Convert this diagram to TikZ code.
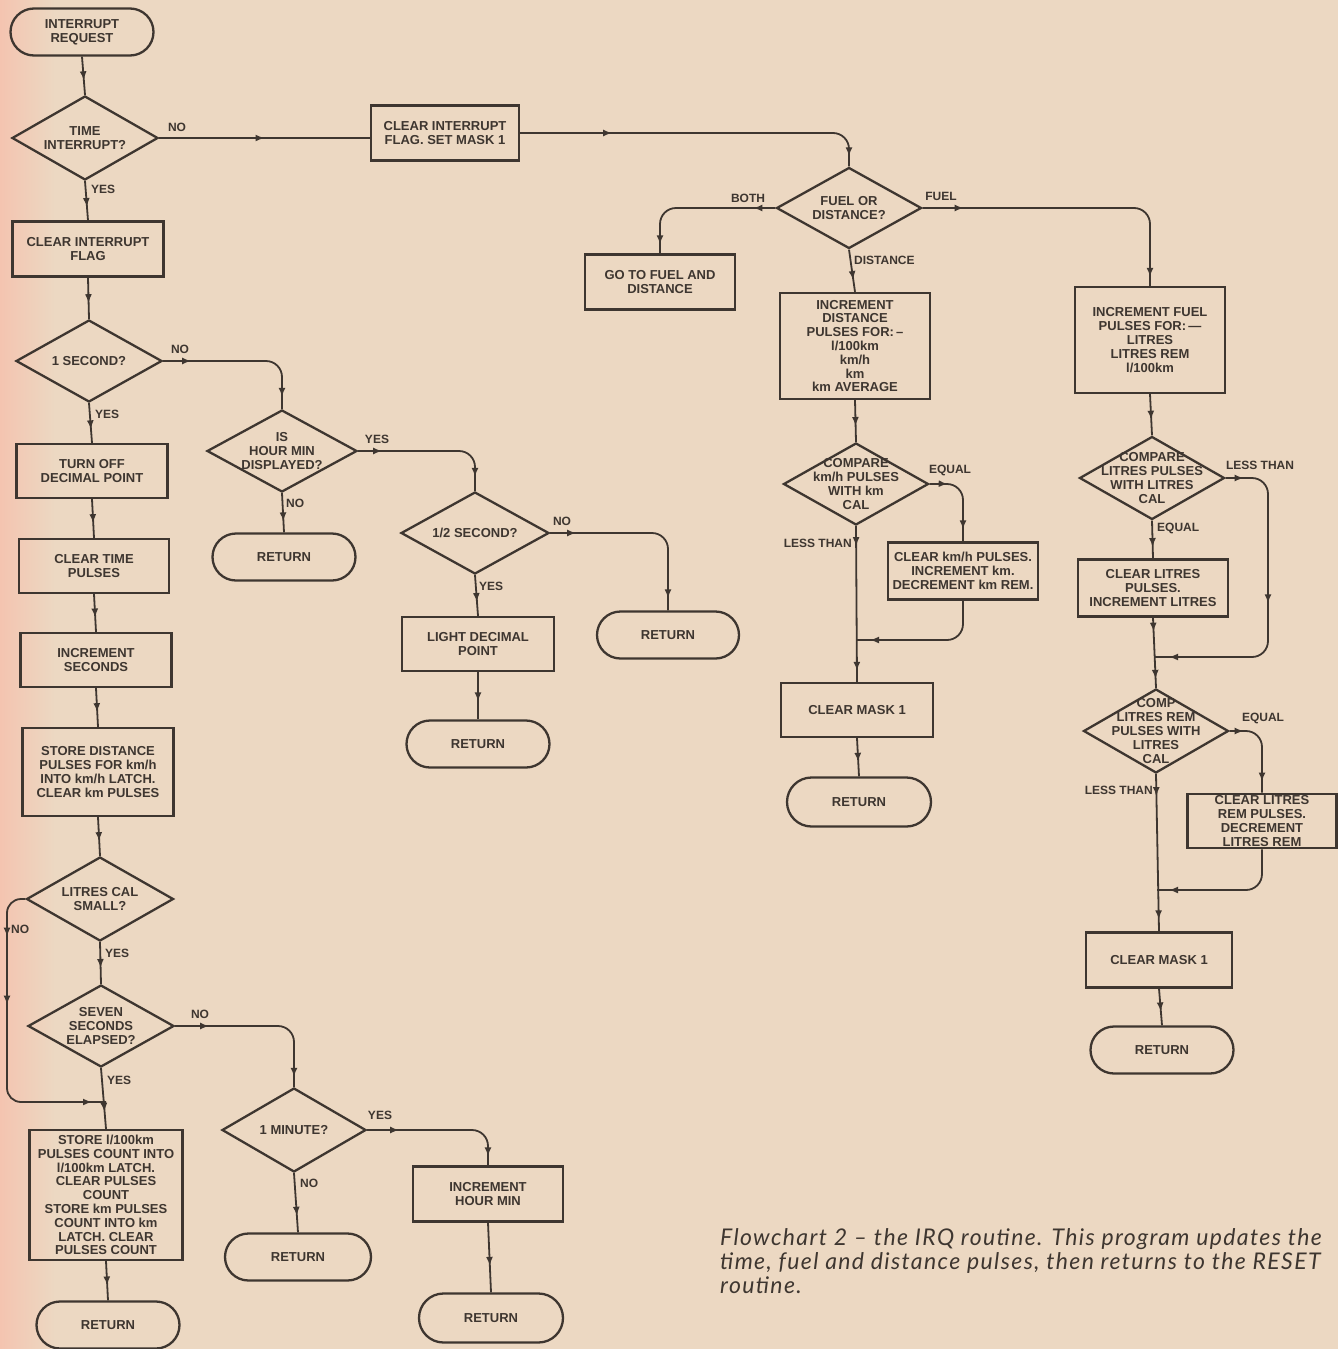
\documentclass[tikz,border=0pt]{standalone}
\usepackage{fontspec}
\setmainfont{Liberation Sans}
\newfontfamily\capfont[LetterSpace=6]{Lato}
\usetikzlibrary{shapes.geometric,shapes.misc,arrows.meta,decorations.markings}
\definecolor{bg}{RGB}{236,216,194}
\definecolor{bgl}{RGB}{244,196,176}
\definecolor{ink}{RGB}{62,54,48}
\newcommand\bxfont{\fontsize{13}{13.8}\selectfont\bfseries}
\newcommand\lbfont{\fontsize{12}{13}\selectfont\bfseries}
\tikzset{
  base/.style={draw=ink, line width=2.3pt, text=ink, font=\bxfont, align=center, inner sep=2pt},
  proc/.style={base, rectangle, minimum width=150, minimum height=55},
  term/.style={base, rounded rectangle, minimum width=147, minimum height=47},
  decide/.style={draw=ink, line width=2.3pt, diamond, inner sep=0pt},
  dtext/.style={text=ink, font=\bxfont, align=center, inner sep=0pt},
  lab/.style={text=ink, font=\lbfont, inner sep=1pt},
  conn/.style={color=ink, line width=1.8pt, rounded corners=16pt},
  arr/.style={postaction={decorate, decoration={markings, mark=at position #1 with {\arrow{Latex[length=9pt,width=7pt]}}}}}
}
\newcommand\decision[6]{%
  \node[decide, minimum width=#4, minimum height=#5] (#1) at (#2,#3) {};
  \node[dtext] (#1t) at (#1) {#6};}
\begin{document}
\begin{tikzpicture}[x=1pt,y=-1pt]
\useasboundingbox (0,0) rectangle (1338,1349);
\fill[bg] (0,0) rectangle (1338,1349);
\shade[left color=bgl, right color=bg] (0,0) rectangle (55,1349);

% ---------- left column
\node[term] (ir) at (82,32) {INTERRUPT\\REQUEST};
\decision{d1}{85}{138}{146}{84}{TIME\\INTERRUPT?}
\node[proc, minimum width=148] (cifsm) at (445,133) {CLEAR INTERRUPT\\FLAG. SET MASK 1};
\node[proc, minimum width=151] (cif) at (88,249) {CLEAR INTERRUPT\\FLAG};
\decision{d2}{89}{361}{146}{82}{1 SECOND?}
\node[proc, minimum width=151, minimum height=54] (toff) at (92,471) {TURN OFF\\DECIMAL POINT};
\node[proc, minimum height=54] (ctp) at (94,566) {CLEAR TIME\\PULSES};
\node[proc, minimum width=151, minimum height=54] (isec) at (96,660) {INCREMENT\\SECONDS};
\node[proc, minimum width=151, minimum height=88] (sdist) at (98,772) {STORE DISTANCE\\PULSES FOR km/h\\INTO km/h LATCH.\\CLEAR km PULSES};
\decision{lc}{100}{899}{147}{84}{LITRES CAL\\SMALL?}
\decision{sev}{101}{1026}{146}{82}{SEVEN\\SECONDS\\ELAPSED?}
\node[proc, minimum width=153, minimum height=130] (s100) at (106,1195) {STORE l/100km\\PULSES COUNT INTO\\l/100km LATCH.\\CLEAR PULSES\\COUNT\\STORE km PULSES\\COUNT INTO km\\LATCH. CLEAR\\PULSES COUNT};
\node[term] (r1) at (108,1325) {RETURN};

% ---------- middle-left
\decision{hm}{282}{451}{150}{82}{IS\\HOUR MIN\\DISPLAYED?}
\node[term] (r2) at (284,557) {RETURN};
\decision{half}{475}{533}{148}{82}{1/2 SECOND?}
\node[term, minimum width=146] (r3) at (668,635) {RETURN};
\node[proc, minimum width=152, minimum height=54] (ldp) at (478,644) {LIGHT DECIMAL\\POINT};
\node[term] (r4) at (478,744) {RETURN};
\decision{om}{294}{1130}{144}{84}{1 MINUTE?}
\node[term, minimum width=150] (r5) at (298,1257) {RETURN};
\node[proc] (ihm) at (488,1194) {INCREMENT\\HOUR MIN};
\node[term, minimum width=148, minimum height=49] (r6) at (491,1318) {RETURN};

% ---------- distance column
\decision{fod}{849}{208}{145}{81}{FUEL OR\\DISTANCE?}
\node[proc] (goto) at (660,282) {GO TO FUEL AND\\DISTANCE};
\node[proc, minimum height=106] (idist) at (855,346) {INCREMENT\\DISTANCE\\PULSES FOR:\,--\\l/100km\\km/h\\km\\km AVERAGE};
\decision{ckm}{856}{484}{145}{82}{COMPARE\\km/h PULSES\\WITH km\\CAL};
\node[proc, minimum height=57] (ckmh) at (963,571) {CLEAR km/h PULSES.\\INCREMENT km.\\DECREMENT km REM.};
\node[proc, minimum width=152, minimum height=54] (cm1) at (857,710) {CLEAR MASK 1};
\node[term, minimum width=148, minimum height=49] (r7) at (859,802) {RETURN};

% ---------- fuel column
\node[proc, minimum height=106] (ifuel) at (1150,340) {INCREMENT FUEL\\PULSES FOR:\,---\\LITRES\\LITRES REM\\l/100km};
\decision{cl}{1152}{478}{145}{83}{COMPARE\\LITRES PULSES\\WITH LITRES\\CAL}
\node[proc, minimum height=57] (clp) at (1153,588) {CLEAR LITRES\\PULSES.\\INCREMENT LITRES};
\decision{crem}{1156}{731}{145}{84}{COMP\\LITRES REM\\PULSES WITH\\LITRES\\CAL}
\node[proc, minimum width=149, minimum height=52] (clrem) at (1262,821) {CLEAR LITRES\\REM PULSES.\\DECREMENT\\LITRES REM};
\node[proc, minimum width=146] (cm2) at (1159,960) {CLEAR MASK 1};
\node[term] (r8) at (1162,1050) {RETURN};

% ---------- merge points
\coordinate (mlc) at (106,1102);
\coordinate (mkm) at (856,640);
\coordinate (mfl) at (1154,657);
\coordinate (mrm) at (1157,890);

% ---------- connectors, left column
\draw[conn, arr=0.62] (ir.south) -- (d1.north);
\draw[conn, arr=0.5] (d1.east) -- (d1.east -| cifsm.west);
\draw[conn, arr=0.66] (d1.south) -- (cif.north);
\draw[conn, arr=0.62] (cif.south) -- (d2.north);
\draw[conn, arr=28pt, arr=-12pt] (d2.east) -- (d2.east -| hm.north) -- (hm.north);
\draw[conn, arr=0.66] (d2.south) -- (toff.north);
\draw[conn, arr=0.62] (toff.south) -- (ctp.north);
\draw[conn, arr=0.62] (ctp.south) -- (isec.north);
\draw[conn, arr=0.62] (isec.south) -- (sdist.north);
\draw[conn, arr=0.62] (sdist.south) -- (lc.north);
\draw[conn, rounded corners=14pt, arr=50pt, arr=118pt, arr=-14pt] (lc.west) -- (7,899) -- (7,1102) -- (mlc);
\draw[conn, arr=0.62] (lc.south) -- (sev.north);
\draw[conn, arr=0.72] (sev.south) -- (s100.north);
\draw[conn, arr=34pt, arr=-10pt] (sev.east) -- (sev.east -| om.north) -- (om.north);
\draw[conn, arr=0.62] (s100.south) -- (r1.north);

% ---------- connectors, middle
\draw[conn, arr=24pt, arr=-14pt] (hm.east) -- (hm.east -| half.north) -- (half.north);
\draw[conn, arr=0.72] (hm.south) -- (r2.north);
\draw[conn, arr=26pt, arr=-12pt] (half.east) -- (half.east -| r3.north) -- (r3.north);
\draw[conn, arr=0.66] (half.south) -- (ldp.north);
\draw[conn, arr=0.62] (ldp.south) -- (r4.north);
\draw[conn, arr=32pt, arr=-9pt] (om.east) -- (om.east -| ihm.north) -- (ihm.north);
\draw[conn, arr=0.72] (om.south) -- (r5.north);
\draw[conn, arr=0.62] (ihm.south) -- (r6.north);

% ---------- connectors, right part
\draw[conn, arr=92pt, arr=-10pt] (cifsm.east) -- (cifsm.east -| fod.north) -- (fod.north);
\draw[conn, arr=22pt, arr=-9pt] (fod.west) -- (fod.west -| goto.north) -- (goto.north);
\draw[conn, arr=41pt, arr=-9pt] (fod.east) -- (fod.east -| ifuel.north) -- (ifuel.north);
\draw[conn, arr=0.72] (fod.south) -- (idist.north);
\draw[conn, arr=0.62] (idist.south) -- (ckm.north);
\draw[conn, arr=18pt, arr=-12pt] (ckm.east) -- (ckm.east -| ckmh.north) -- (ckmh.north);
\draw[conn, arr=20pt, arr=-11pt] (ckm.south) -- (cm1.north);
\draw[conn, arr=-14pt] (ckmh.south) -- (ckmh.south |- mkm) -- (mkm);
\draw[conn, arr=0.62] (cm1.south) -- (r7.north);
\draw[conn, arr=0.62] (ifuel.south) -- (cl.north);
\draw[conn, arr=18pt, arr=0.5, arr=-15pt] (cl.east) -- (1268,478) -- (1268,657) -- (mfl);
\draw[conn, arr=0.7] (cl.south) -- (clp.north);
\draw[conn, arr=14pt, arr=-9pt] (clp.south) -- (crem.north);
\draw[conn, arr=14pt, arr=-11pt] (crem.east) -- (crem.east -| clrem.north) -- (clrem.north);
\draw[conn, arr=-12pt] (clrem.south) -- (clrem.south |- mrm) -- (mrm);
\draw[conn, arr=22pt, arr=-12pt] (crem.south) -- (cm2.north);
\draw[conn, arr=0.62] (cm2.south) -- (r8.north);

% ---------- labels
\node[lab] (l1) at (177,127) {NO};
\node[lab, anchor=west] (l2) at (90,189) {YES};
\node[lab] (l3) at (180,349) {NO};
\node[lab, anchor=west] (l4) at (94,414) {YES};
\node[lab, anchor=west] (l5) at (10,929) {NO};
\node[lab, anchor=west] (l6) at (104,953) {YES};
\node[lab] (l7) at (200,1014) {NO};
\node[lab, anchor=west] (l8) at (106,1080) {YES};
\node[lab] (l9) at (377,439) {YES};
\node[lab, anchor=west] (l10) at (285,503) {NO};
\node[lab] (l11) at (562,521) {NO};
\node[lab, anchor=west] (l12) at (478,586) {YES};
\node[lab] (l13) at (380,1115) {YES};
\node[lab, anchor=west] (l14) at (299,1183) {NO};
\node[lab] (l15) at (748,198) {BOTH};
\node[lab] (l16) at (941,196) {FUEL};
\node[lab, anchor=west] (l17) at (853,260) {DISTANCE};
\node[lab] (l18) at (950,470) {EQUAL};
\node[lab, anchor=east] (l19) at (853,543) {LESS THAN};
\node[lab] (l20) at (1260,465) {LESS THAN};
\node[lab, anchor=west] (l21) at (1156,528) {EQUAL};
\node[lab] (l22) at (1263,718) {EQUAL};
\node[lab, anchor=east] (l23) at (1154,790) {LESS THAN};

% ---------- caption
\node[anchor=north west, align=left, inner sep=0pt, text=ink, font={\capfont\itshape\fontsize{23}{24}\selectfont}] (cap) at (720,1228)
  {Flowchart 2 – the IRQ routine. This program updates the\\time, fuel and distance pulses, then returns to the RESET\\routine.};
\end{tikzpicture}
\end{document}
